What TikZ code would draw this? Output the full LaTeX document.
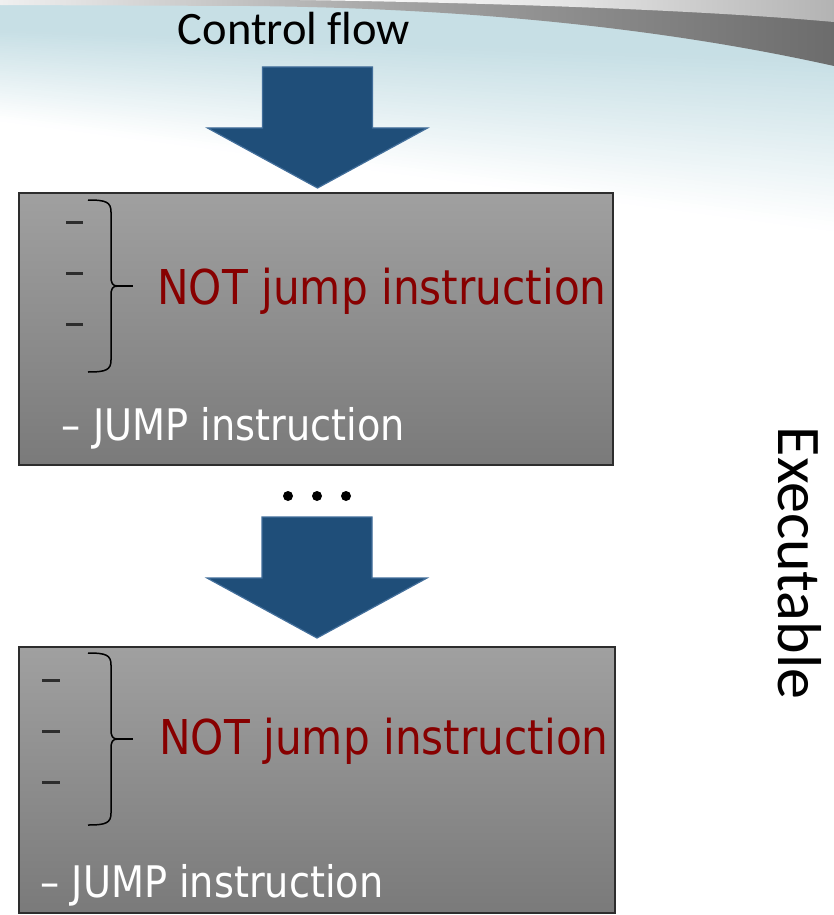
\documentclass[tikz,border=0pt]{standalone}
\usepackage{fontspec}
\newfontfamily\calibrifont[Ligatures=NoCommon]{Carlito}
\newfontfamily\tahomafont[FakeStretch=0.88]{DejaVu Sans}
\definecolor{haze}{RGB}{199,223,229}
\definecolor{arrowblue}{RGB}{31,78,121}
\definecolor{arrowedge}{RGB}{66,110,154}
\definecolor{boxtop}{RGB}{160,160,160}
\definecolor{boxbottom}{RGB}{122,122,122}
\definecolor{boxedge}{RGB}{45,45,45}
\definecolor{notred}{RGB}{135,0,0}
\definecolor{dashgray}{RGB}{45,45,45}
\definecolor{bandlight}{RGB}{240,240,240}
\definecolor{bandmid}{RGB}{160,160,160}
\definecolor{banddark}{RGB}{108,108,108}

\begin{document}
\begin{tikzpicture}[x=1pt,y=-1pt,
  box/.style={draw=boxedge, line width=1.3pt, top color=boxtop, bottom color=boxbottom,
    minimum width=594pt, inner sep=0pt},
  redlabel/.style={text=notred, font=\tahomafont\fontsize{48}{52}\selectfont,
    inner sep=0pt, anchor=base},
  jumplabel/.style={text=white, font=\tahomafont\fontsize{43.5}{48}\selectfont,
    inner sep=0pt, anchor=base},
  itemdash/.style={draw=dashgray, line width=3pt},
  bracestroke/.style={draw=black, line width=1.5pt, line join=round},
  dotmark/.style={circle, fill=black, inner sep=0pt, minimum size=10pt},
  blockarrow/.pic={
    \path[fill=arrowblue, draw=arrowedge, line width=1.2pt]
      (-55,0) -- (55,0) -- (55,61) -- (110,61) -- (0,121) -- (-110,61) -- (-55,61) -- cycle;
  },
  curlybrace/.pic={
    \path[bracestroke]
      (0,0) .. controls (18,0) and (23,2) .. (23,12) -- (23,76)
      .. controls (23,83) and (24,86) .. (30,86)
      .. controls (24,86) and (23,89) .. (23,96) -- (23,160)
      .. controls (23,170) and (18,172) .. (0,172);
    \path[bracestroke] (30,86) -- (45,86);
  }
]
\useasboundingbox (0,0) rectangle (834,915);
\fill[white] (0,0) rectangle (834,915);

% light haze under the header band, fading out along a slanted front
\fill[haze] (0,0) -- (834,0) -- (834,61) -- (0,31) -- cycle;
\foreach \k in {0,...,39}{
  \pgfmathsetmacro{\ta}{\k/40}
  \pgfmathsetmacro{\tb}{(\k+1)/40}
  \pgfmathsetmacro{\mixv}{100*(1-(\k+0.5)/40)}
  \fill[haze!\mixv!white]
    (0,{30+90*\ta}) -- (834,{60+170*\ta}) -- (834,{61+170*\tb}) -- (0,{31+90*\tb}) -- cycle;
}

% curved grey header band
\shade[left color=bandlight, right color=banddark, middle color=bandmid]
  (0,0) -- (834,0) -- (834,66) .. controls (650,25) and (450,8) .. (250,6) -- (0,5) -- cycle;
\shade[left color=white, right color=bandmid!80!white, middle color=bandlight!85!bandmid]
  (300,0) -- (834,0) -- (834,22) .. controls (700,10) and (500,3) .. (300,0) -- cycle;

% heading
\node[anchor=base, font=\calibrifont\fontsize{46.5}{50}\selectfont, inner sep=0pt]
  (ctrl) at (294,45) {Control flow};

% first flow arrow
\pic at (317.5,67) {blockarrow};

% first basic block
\node[box, minimum height=272pt] (box1) at (316,329) {};
\draw[itemdash] (66,222) -- (83,222);
\draw[itemdash] (66,273) -- (83,273);
\draw[itemdash] (66,324) -- (83,324);
\pic at (88,200) {curlybrace};
\node[redlabel] (not1) at (382,304) {NOT jump instruction};
\node[jumplabel] (jump1) at (233.5,440) {– JUMP instruction};

% ellipsis between blocks
\node[dotmark] (dot1) at (288,496) {};
\node[dotmark] (dot2) at (317,496) {};
\node[dotmark] (dot3) at (346,496) {};

% second flow arrow
\pic at (317,517) {blockarrow};

% second basic block
\node[box, minimum width=596pt, minimum height=266pt] (box2) at (317,780) {};
\draw[itemdash] (42,680) -- (60,680);
\draw[itemdash] (42,731) -- (60,731);
\draw[itemdash] (42,782) -- (60,782);
\pic at (88,653) {curlybrace};
\node[redlabel] (not2) at (384,754) {NOT jump instruction};
\node[jumplabel] (jump2) at (212,897) {– JUMP instruction};

% side label
\node[rotate=-90, anchor=base, font=\calibrifont\fontsize{62}{70}\selectfont, inner sep=0pt]
  (exe) at (778,563) {Executable};
\end{tikzpicture}
\end{document}
